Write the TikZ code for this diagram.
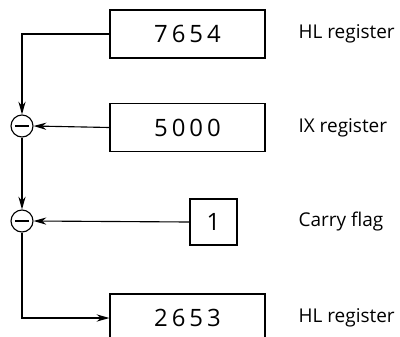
\documentclass[tikz,border=0pt]{standalone}
\usepackage{fontspec}
\setmainfont{Open Sans}
\usetikzlibrary{arrows.meta}

\tikzset{
  regbox/.style={draw, line width=0.8pt, minimum width=3.875cm, minimum height=1.2cm, font=\fontsize{17}{19}\selectfont},
  flagbox/.style={draw, line width=0.8pt, minimum width=1.175cm, minimum height=1.15cm, font=\fontsize{17}{19}\selectfont},
  subnode/.style={draw, circle, line width=0.8pt, minimum size=0.55cm, inner sep=0pt,
    path picture={\draw[line width=1.3pt] ([xshift=-0.17cm]path picture bounding box.center) -- ([xshift=0.17cm]path picture bounding box.center);}},
  lab/.style={anchor=west, inner sep=0pt, font=\fontsize{13.5}{15}\selectfont}
}

\begin{document}
\begin{tikzpicture}[x=0.025cm,y=-0.025cm,>={Stealth[length=3.2mm,width=1.8mm]}, line width=0.8pt]
    \useasboundingbox (0,0) rectangle (400,336);

    \node[regbox] (hl1) at (187.5,34) {7\,6\,5\,4};
    \node[regbox] (ix) at (187.5,127.5) {5\,0\,0\,0};
    \node[flagbox] (cf) at (213.5,222) {1};
    \node[regbox] (hl2) at (187.5,318) {2\,6\,5\,3};

    \node[subnode] (sub1) at (22,126) {};
    \node[subnode] (sub2) at (22,221) {};

    \node[lab] (l1) at (298,34) {HL register};
    \node[lab] (l2) at (298,127.5) {IX register};
    \node[lab] (l3) at (298,222) {Carry flag};
    \node[lab] (l4) at (298,318) {HL register};

    \draw[->] (hl1.west) -| (sub1.north);
    \draw[->] (ix.west) -- (sub1.east);
    \draw[->] (sub1.south) -- (sub2.north);
    \draw[->] (cf.west) -- (sub2.east);
    \draw[->] (sub2.south) |- (hl2.west);
\end{tikzpicture}
\end{document}
